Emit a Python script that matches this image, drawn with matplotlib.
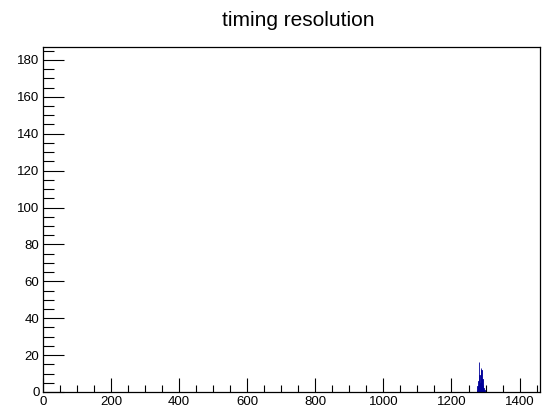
import numpy as np
import matplotlib.pyplot as plt
from matplotlib.ticker import MultipleLocator

plt.rcParams["font.family"] = ["Liberation Sans", "DejaVu Sans"]

# histogram contents (bin left edges, counts)
zero_edges = [0]
zero_counts = [178]
peak_edges = [1274, 1276, 1278, 1280, 1282, 1284, 1286, 1288, 1290, 1292, 1294, 1296]
peak_counts = [1, 3, 6, 16, 9, 5, 13, 12, 7, 4, 2, 1]
bin_width = [1, 2]

x_range = (0, 1460)
y_range = (0, 187)

fig = plt.figure(figsize=(5.42, 4.07), dpi=100)
ax = fig.add_axes([43 / 542, 1 - 392 / 407, (540 - 43) / 542, (392 - 47) / 407])

col = "#000099"
ax.bar(zero_edges, zero_counts, width=bin_width[0], align="edge",
       color=col, edgecolor=col, linewidth=0.6)
ax.bar(peak_edges, peak_counts, width=bin_width[1], align="edge",
       color=col, edgecolor=col, linewidth=0.6)

ax.set_xlim(*x_range)
ax.set_ylim(*y_range)

ax.xaxis.set_major_locator(MultipleLocator(200))
ax.xaxis.set_minor_locator(MultipleLocator(50))
ax.yaxis.set_major_locator(MultipleLocator(20))
ax.yaxis.set_minor_locator(MultipleLocator(5))

ax.tick_params(axis="x", which="major", direction="in", length=10, width=0.8,
               labelsize=9.5, pad=3.2, top=False)
ax.tick_params(axis="x", which="minor", direction="in", length=5, width=0.8, top=False)
ax.tick_params(axis="y", which="major", direction="in", length=15, width=0.8,
               labelsize=9.5, pad=2.5, right=False)
ax.tick_params(axis="y", which="minor", direction="in", length=8, width=0.8, right=False)

for s in ax.spines.values():
    s.set_linewidth(0.9)

fig.text(0.55, 1 - 20 / 407, "timing resolution", ha="center", va="center", fontsize=15)

fig.savefig("out.png", dpi=100)
